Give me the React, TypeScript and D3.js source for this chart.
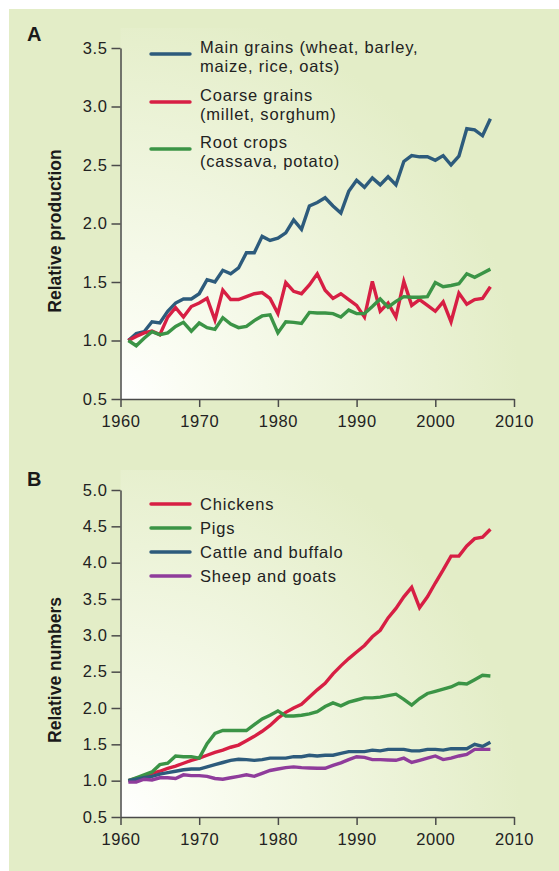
import { useEffect, useRef } from "react";
import * as d3 from "d3";

const years = [
  1961, 1962, 1963, 1964, 1965, 1966, 1967, 1968, 1969, 1970,
  1971, 1972, 1973, 1974, 1975, 1976, 1977, 1978, 1979, 1980,
  1981, 1982, 1983, 1984, 1985, 1986, 1987, 1988, 1989, 1990,
  1991, 1992, 1993, 1994, 1995, 1996, 1997, 1998, 1999, 2000,
  2001, 2002, 2003, 2004, 2005, 2006, 2007,
];

// Panel A
const mainGrains = [
  1.0, 1.06, 1.075, 1.16, 1.15, 1.25, 1.32, 1.355, 1.355, 1.4,
  1.52, 1.5, 1.6, 1.57, 1.62, 1.75, 1.75, 1.89, 1.855, 1.875,
  1.92, 2.03, 1.95, 2.15, 2.18, 2.22, 2.15, 2.09, 2.275, 2.37,
  2.31, 2.39, 2.33, 2.4, 2.33, 2.53, 2.58, 2.57, 2.57, 2.54,
  2.58, 2.5, 2.575, 2.81, 2.8, 2.75, 2.895,
];
const coarseGrains = [
  1.0, 1.035, 1.065, 1.08, 1.05, 1.2, 1.28, 1.2, 1.29, 1.32,
  1.36, 1.175, 1.43, 1.35, 1.35, 1.375, 1.4, 1.41, 1.36, 1.23,
  1.495, 1.42, 1.4, 1.475, 1.57, 1.43, 1.36, 1.4, 1.35, 1.3,
  1.2, 1.505, 1.25, 1.32, 1.2, 1.505, 1.3, 1.35, 1.3, 1.25,
  1.33, 1.16, 1.405, 1.31, 1.35, 1.36, 1.46,
];
const rootCrops = [
  1.0, 0.955, 1.02, 1.075, 1.05, 1.065, 1.12, 1.155, 1.08, 1.15,
  1.11, 1.095, 1.195, 1.14, 1.11, 1.12, 1.17, 1.21, 1.22, 1.065,
  1.16, 1.155, 1.145, 1.24, 1.235, 1.235, 1.23, 1.2, 1.26, 1.23,
  1.23, 1.29, 1.355, 1.285, 1.335, 1.375, 1.37, 1.37, 1.375, 1.495,
  1.46, 1.47, 1.485, 1.57, 1.54, 1.575, 1.61,
];

// Panel B
const chickens = [
  1.0, 1.03, 1.06, 1.1, 1.13, 1.17, 1.2, 1.24, 1.28, 1.31,
  1.35, 1.39, 1.42, 1.46, 1.49, 1.55, 1.61, 1.68, 1.76, 1.86,
  1.94, 2.0, 2.05, 2.15, 2.25, 2.34, 2.47, 2.58, 2.68, 2.77,
  2.86, 2.98, 3.07, 3.24, 3.37, 3.53, 3.66, 3.38, 3.53, 3.72,
  3.9, 4.09, 4.09, 4.23, 4.33, 4.35, 4.46,
];
const pigs = [
  1.0, 1.04, 1.08, 1.12, 1.22, 1.24, 1.34, 1.33, 1.33, 1.31,
  1.51, 1.65, 1.69, 1.69, 1.69, 1.69, 1.77, 1.85, 1.9, 1.96,
  1.89, 1.89, 1.9, 1.92, 1.95, 2.02, 2.07, 2.03, 2.08, 2.11,
  2.14, 2.14, 2.15, 2.17, 2.19, 2.12, 2.04, 2.13, 2.2, 2.23,
  2.26, 2.29, 2.34, 2.33, 2.39, 2.45, 2.44,
];
const cattle = [
  1.0, 1.02, 1.04, 1.06, 1.09, 1.11, 1.13, 1.15, 1.16, 1.16,
  1.19, 1.22, 1.25, 1.28, 1.295, 1.29, 1.28, 1.29, 1.31, 1.31,
  1.31, 1.33, 1.33, 1.35, 1.34, 1.35, 1.35, 1.375, 1.4, 1.4,
  1.4, 1.42, 1.41, 1.43, 1.43, 1.43, 1.41, 1.41, 1.43, 1.43,
  1.42, 1.44, 1.44, 1.44, 1.5, 1.47, 1.53,
];
const sheep = [
  0.98, 0.98, 1.02, 1.01, 1.04, 1.04, 1.03, 1.08, 1.07, 1.07,
  1.06, 1.03, 1.02, 1.04, 1.06, 1.08, 1.06, 1.1, 1.14, 1.16,
  1.18, 1.19, 1.18, 1.175, 1.17, 1.17, 1.21, 1.245, 1.29, 1.33,
  1.32, 1.29, 1.29, 1.285, 1.28, 1.31, 1.25, 1.28, 1.31, 1.34,
  1.29, 1.31, 1.34, 1.36, 1.43, 1.43, 1.43,
];

const xTicks = [1960, 1970, 1980, 1990, 2000, 2010];
const yTicksA = [0.5, 1.0, 1.5, 2.0, 2.5, 3.0, 3.5];
const yTicksB = [0.5, 1.0, 1.5, 2.0, 2.5, 3.0, 3.5, 4.0, 4.5, 5.0];

const BLUE = "#2d5b7c";
const RED = "#d71f44";
const GREEN = "#3b9446";
const PURPLE = "#8f3c9b";
const BG = "#e3edc7";
const FONT = "'Liberation Sans', Arial, Helvetica, sans-serif";

interface Series {
  label: string[];
  values: number[];
  color: string;
}

const seriesA: Series[] = [
  { label: ["Main grains (wheat, barley,", "maize, rice, oats)"], values: mainGrains, color: BLUE },
  { label: ["Coarse grains", "(millet, sorghum)"], values: coarseGrains, color: RED },
  { label: ["Root crops", "(cassava, potato)"], values: rootCrops, color: GREEN },
];

const seriesB: Series[] = [
  { label: ["Chickens"], values: chickens, color: RED },
  { label: ["Pigs"], values: pigs, color: GREEN },
  { label: ["Cattle and buffalo"], values: cattle, color: BLUE },
  { label: ["Sheep and goats"], values: sheep, color: PURPLE },
];

interface PanelCfg {
  id: string;
  letter: string;
  letterY: number;
  top: number;
  bottom: number;
  yMax: number;
  yTicks: number[];
  title: string;
  titleY: number;
  series: Series[];
  legendY: number[];
  legendTextDy: number;
}

const panels: PanelCfg[] = [
  {
    id: "a", letter: "A", letterY: 41, top: 48, bottom: 399, yMax: 3.5, yTicks: yTicksA,
    title: "Relative production", titleY: 231, series: seriesA,
    legendY: [54, 102, 149], legendTextDy: -1,
  },
  {
    id: "b", letter: "B", letterY: 486, top: 490, bottom: 817, yMax: 5.0, yTicks: yTicksB,
    title: "Relative numbers", titleY: 670, series: seriesB,
    legendY: [504, 528, 552, 576], legendTextDy: 6,
  },
];

export default function App() {
  const svgRef = useRef<SVGSVGElement>(null);

  useEffect(() => {
    if (!svgRef.current) return;
    const svg = d3.select(svgRef.current);
    svg.selectAll("*").remove();

    const left = 120.5;
    const right = 514;

    const defs = svg.append("defs");

    svg.append("rect")
      .attr("x", 9).attr("y", 9)
      .attr("width", 550).attr("height", 862)
      .attr("fill", BG);

    const x = d3.scaleLinear().domain([1960, 2010]).range([left, right]);

    panels.forEach((p) => {
      const y = d3.scaleLinear().domain([0.5, p.yMax]).range([p.bottom, p.top]);

      // soft glow in the lower left of the plot area
      const grad = defs.append("radialGradient")
        .attr("id", `glow-${p.id}`)
        .attr("gradientUnits", "userSpaceOnUse")
        .attr("cx", left).attr("cy", p.bottom)
        .attr("r", 400);
      grad.append("stop").attr("offset", 0).attr("stop-color", "#ffffff");
      grad.append("stop").attr("offset", 0.15).attr("stop-color", "#fbfdf4");
      grad.append("stop").attr("offset", 1).attr("stop-color", BG);

      svg.append("rect")
        .attr("x", left).attr("y", p.top - 20)
        .attr("width", 559 - left).attr("height", p.bottom - p.top + 20)
        .attr("fill", `url(#glow-${p.id})`);

      // panel letter
      svg.append("text")
        .attr("x", 27).attr("y", p.letterY)
        .attr("font-family", FONT).attr("font-weight", "bold")
        .attr("font-size", 20).attr("fill", "#1a1a1a")
        .text(p.letter);

      // y title
      svg.append("text")
        .attr("transform", `translate(60.5,${p.titleY}) rotate(-90)`)
        .attr("text-anchor", "middle")
        .attr("font-family", FONT).attr("font-weight", "bold")
        .attr("font-size", 17.5).attr("fill", "#1a1a1a")
        .text(p.title);

      // lines
      const line = d3.line<number>()
        .x((_, i) => x(years[i]))
        .y((d) => y(d));

      p.series.forEach((s) => {
        svg.append("path")
          .datum(s.values)
          .attr("fill", "none")
          .attr("stroke", s.color)
          .attr("stroke-width", 3.4)
          .attr("stroke-linejoin", "miter")
          .attr("stroke-linecap", "butt")
          .attr("d", line);
      });

      // legend
      p.series.forEach((s, i) => {
        const ly = p.legendY[i];
        svg.append("line")
          .attr("x1", 151).attr("x2", 190)
          .attr("y1", ly).attr("y2", ly)
          .attr("stroke", s.color)
          .attr("stroke-width", 3.4)
          .attr("stroke-linecap", "round");
        const t = svg.append("text")
          .attr("x", 200)
          .attr("y", ly + p.legendTextDy)
          .attr("font-family", FONT).attr("font-size", 16.5)
          .attr("letter-spacing", 0.8)
          .attr("fill", "#222");
        s.label.forEach((l, j) => {
          t.append("tspan")
            .attr("x", 200)
            .attr("dy", j === 0 ? 0 : 19)
            .text(l);
        });
      });

      const styleAxis = (g: d3.Selection<SVGGElement, unknown, null, undefined>) => {
        g.select(".domain").attr("stroke", "#4a4a4a").attr("stroke-width", 1.5);
        g.selectAll(".tick line").attr("stroke", "#4a4a4a").attr("stroke-width", 1.5);
        g.selectAll(".tick text")
          .attr("font-family", FONT).attr("font-size", 16.5)
          .attr("letter-spacing", 0.6)
          .attr("fill", "#222");
      };

      // x axis
      svg.append("g")
        .attr("transform", `translate(0,${p.bottom})`)
        .call(
          d3.axisBottom(x)
            .tickValues(xTicks)
            .tickFormat(d3.format("d"))
            .tickSize(8)
            .tickSizeOuter(0)
            .tickPadding(8)
        )
        .call(styleAxis);

      // y axis
      svg.append("g")
        .attr("transform", `translate(${left},0)`)
        .call(
          d3.axisLeft(y)
            .tickValues(p.yTicks)
            .tickFormat(d3.format(".1f"))
            .tickSize(9)
            .tickSizeOuter(0)
            .tickPadding(4)
        )
        .call(styleAxis);
    });
  }, []);

  return (
    <svg
      ref={svgRef}
      width={559}
      height={871}
      viewBox="0 0 559 871"
      style={{ position: "absolute", left: 0, top: 0, background: "#fff" }}
    />
  );
}
